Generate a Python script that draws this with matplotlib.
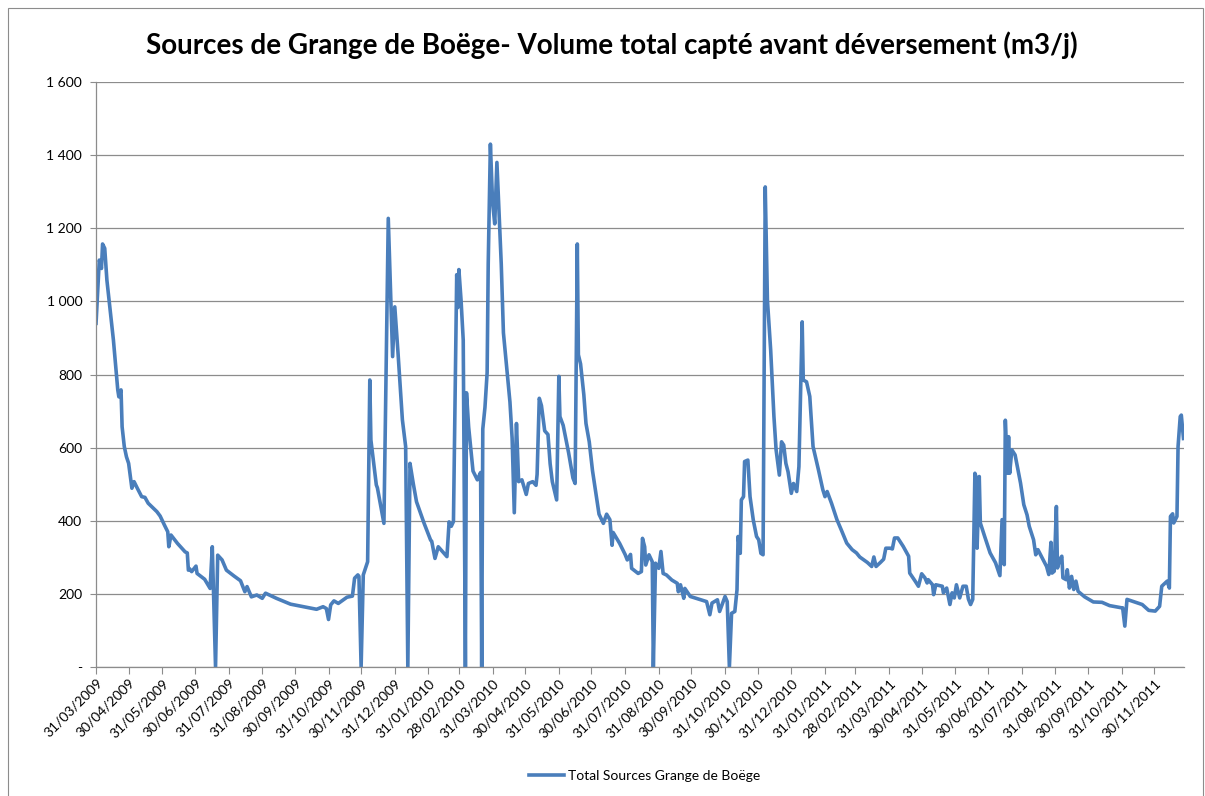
import numpy as np
import pandas as pd
import matplotlib
matplotlib.use("Agg")
import matplotlib.pyplot as plt
import matplotlib.dates as mdates
from matplotlib.ticker import FuncFormatter, MultipleLocator
from matplotlib.patches import Rectangle

plt.rcParams['font.family'] = ['Lato', 'DejaVu Sans']

# daily series (days after 31/03/2009, m3/j)
start_date = "2009-03-31"
day_offsets = [
    0, 3, 5, 6, 8, 10, 12, 16, 20, 21, 23, 24, 26, 28, 30, 32, 33, 35, 38, 42,
    45, 48, 56, 59, 63, 66, 67, 69, 75, 82, 84, 85, 86, 88, 92, 93, 100, 105, 107, 110,
    112, 116, 120, 127, 133, 137, 139, 143, 148, 153, 156, 166, 179, 191, 203, 209, 212, 214, 216, 219,
    223, 231, 236, 238, 241, 242, 244, 246, 248, 250, 252, 253, 258, 259, 265, 269, 273, 275, 278, 282,
    285, 287, 289, 292, 295, 302, 308, 309, 312, 315, 323, 325, 327, 329, 332, 333, 334, 336, 338, 340,
    341, 343, 345, 347, 351, 354, 355, 356, 358, 360, 361, 363, 365, 367, 369, 371, 373, 375, 378, 381,
    383, 385, 387, 389, 392, 396, 398, 402, 405, 406, 408, 410, 413, 416, 418, 420, 422, 424, 426, 427,
    430, 435, 439, 441, 443, 444, 446, 449, 451, 454, 457, 461, 463, 467, 470, 473, 475, 476, 482, 487,
    489, 492, 493, 499, 502, 503, 505, 506, 509, 512, 513, 515, 518, 520, 522, 525, 530, 535, 536, 538,
    541, 542, 547, 562, 565, 567, 572, 574, 579, 581, 583, 585, 588, 590, 591, 593, 594, 596, 597, 600,
    602, 605, 608, 610, 612, 614, 616, 618, 621, 624, 626, 629, 631, 633, 635, 637, 640, 642, 645, 647,
    650, 651, 654, 657, 660, 665, 669, 671, 673, 677, 682, 686, 691, 696, 700, 703, 710, 714, 716, 718,
    722, 725, 727, 731, 733, 735, 738, 743, 748, 749, 754, 757, 760, 763, 765, 766, 770, 771, 773, 779,
    780, 783, 786, 788, 790, 792, 795, 798, 801, 803, 805, 807, 809, 810, 811, 813, 814, 818, 823, 828,
    832, 834, 835, 836, 837, 839, 840, 841, 843, 846, 851, 854, 857, 859, 863, 865, 867, 871, 875, 877,
    879, 880, 882, 884, 885, 887, 889, 890, 893, 894, 896, 898, 900, 902, 904, 910, 918, 926, 933, 944,
    945, 947, 949, 963, 969, 975, 979, 981, 986, 988, 989, 991, 992, 995, 996, 998, 999, 1001,
]
volumes = [
    940, 1113, 1090, 1157, 1145, 1058, 1004, 894, 758, 739, 758, 657, 603, 575, 557, 511, 489, 507, 489, 466,
    464, 448, 425, 413, 388, 370, 329, 361, 338, 315, 312, 265, 269, 261, 276, 256, 240, 215, 329, 0,
    306, 293, 265, 249, 236, 206, 220, 192, 197, 188, 202, 188, 172, 165, 158, 165, 160, 130, 170, 181,
    174, 191, 194, 243, 252, 248, 0, 252, 270, 288, 785, 621, 498, 490, 393, 1227, 849, 985, 858, 676,
    603, 0, 557, 502, 452, 393, 347, 344, 297, 329, 302, 397, 385, 398, 1073, 983, 1087, 1003, 894, 0,
    750, 656, 596, 536, 512, 532, 0, 651, 710, 805, 1102, 1430, 1271, 1212, 1380, 1241, 1102, 914, 819, 725,
    626, 422, 666, 507, 512, 472, 502, 507, 497, 527, 735, 715, 646, 636, 556, 507, 482, 457, 795, 685,
    661, 586, 517, 502, 1157, 854, 829, 745, 666, 616, 537, 457, 418, 393, 418, 403, 333, 368, 338, 308,
    293, 308, 270, 256, 261, 352, 329, 279, 307, 288, 0, 284, 270, 316, 256, 252, 238, 229, 206, 225,
    188, 215, 193, 179, 143, 175, 184, 152, 193, 179, 0, 147, 152, 211, 357, 311, 457, 466, 562, 566,
    466, 402, 357, 348, 311, 307, 1313, 1004, 867, 685, 594, 525, 616, 607, 557, 534, 475, 502, 480, 548,
    944, 785, 780, 740, 603, 539, 485, 466, 480, 448, 403, 375, 339, 321, 312, 301, 286, 275, 301, 275,
    286, 295, 325, 325, 323, 353, 353, 330, 303, 257, 235, 221, 255, 244, 230, 239, 225, 198, 225, 221,
    203, 216, 171, 203, 189, 225, 189, 221, 221, 186, 171, 185, 530, 520, 325, 521, 394, 357, 312, 285,
    250, 403, 403, 280, 675, 530, 630, 530, 594, 580, 503, 444, 416, 385, 348, 307, 321, 298, 275, 253,
    341, 257, 262, 439, 271, 294, 303, 244, 239, 266, 216, 248, 212, 235, 207, 192, 178, 177, 168, 162,
    162, 112, 185, 171, 155, 153, 166, 221, 235, 216, 412, 419, 394, 412, 603, 685, 689, 625,
]
series_name = "Total Sources Grange de Boëge"
title = "Sources de Grange de Boëge- Volume total capté avant déversement (m3/j)"

dates = pd.Timestamp(start_date) + pd.to_timedelta(day_offsets, unit="D")
tick_dates = pd.date_range("2009-03-31", "2011-11-30", freq=pd.offsets.MonthEnd())

fig = plt.figure(figsize=(12.05, 7.96), dpi=100)
ax = fig.add_axes([0.0797, 0.162, 0.9029, 0.735])

line, = ax.plot(dates, volumes, color="#4a7ebb", lw=2.6, solid_joinstyle="round")

ax.set_ylim(0, 1600)
ax.set_xlim(pd.Timestamp(start_date), pd.Timestamp(start_date) + pd.Timedelta(days=1001.5))
ax.yaxis.set_major_locator(MultipleLocator(200))
ax.yaxis.set_major_formatter(FuncFormatter(
    lambda v, p: "-" if v == 0 else f"{int(v):,}".replace(",", " ")))
ax.set_xticks(tick_dates)
ax.xaxis.set_major_formatter(mdates.DateFormatter("%d/%m/%Y"))
plt.setp(ax.get_xticklabels(), rotation=45, ha="right", rotation_mode="anchor")

ax.grid(axis="y", color="#8c8c8c", lw=0.9)
ax.set_axisbelow(True)
for s in ["top", "right"]:
    ax.spines[s].set_visible(False)
for s in ["left", "bottom"]:
    ax.spines[s].set_color("#8c8c8c")
    ax.spines[s].set_linewidth(0.9)
ax.tick_params(axis="x", length=5, color="#8c8c8c", labelsize=10, pad=2)
ax.tick_params(axis="y", length=4, color="#8c8c8c", labelsize=10, pad=6)

fig.text(0.508, 0.943, title, ha="center", va="center", fontsize=20, fontweight="bold")
fig.legend([line], [series_name], loc="center", bbox_to_anchor=(0.535, 0.025),
           frameon=False, fontsize=10, handlelength=2.5, handletextpad=0.3)

fig.patches.append(Rectangle((8 / 1205, -0.01), 1195 / 1205, 1 - 8 / 796 + 0.01,
                             transform=fig.transFigure, fill=False,
                             edgecolor="#8c8c8c", lw=0.8))

fig.savefig("out.png", dpi=100)
